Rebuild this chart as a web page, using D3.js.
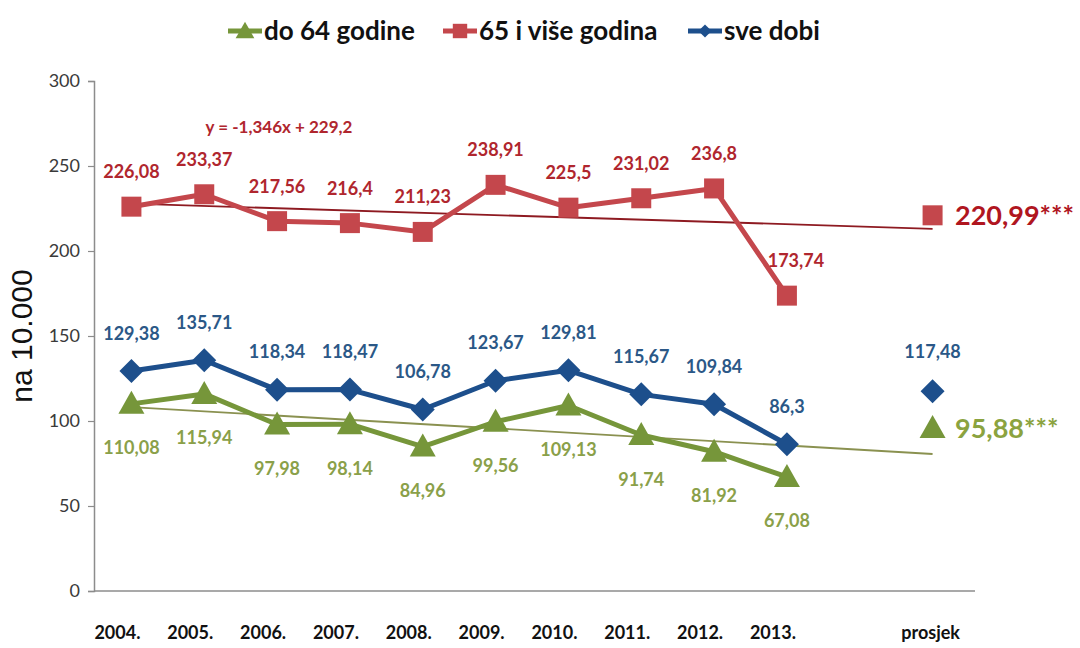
<!DOCTYPE html>
<html>
<head>
<meta charset="utf-8">
<title>na 10.000</title>
<script src="https://cdn.jsdelivr.net/npm/d3@7"></script>
<style>
  body { margin: 0; background: #fff; }
  svg { display: block; }
</style>
</head>
<body>
<script>
// values
var years = ["2004.", "2005.", "2006.", "2007.", "2008.", "2009.", "2010.", "2011.", "2012.", "2013."];
var avgName = "prosjek";
var under64 = [110.08, 115.94, 97.98, 98.14, 84.96, 99.56, 109.13, 91.74, 81.92, 67.08];
var over65 = [226.08, 233.37, 217.56, 216.4, 211.23, 238.91, 225.5, 231.02, 236.8, 173.74];
var allAges = [129.38, 135.71, 118.34, 118.47, 106.78, 123.67, 129.81, 115.67, 109.84, 86.3];
var averages = [95.88, 220.99, 117.48]; // do 64, 65+, sve dobi
var yTicks = [0, 50, 100, 150, 200, 250, 300];
var trendOver65 = [-1.346, 229.2];  // slope, intercept (x = 1..12)
var trendUnder64 = [-2.51, 110.7];
var seriesNames = ["do 64 godine", "65 i više godina", "sve dobi"];

var W = 1080, H = 648;
var svg = d3.select("body").append("svg").attr("width", W).attr("height", H);

var x = d3.scaleBand()
  .domain(years.concat([" ", avgName]))
  .range([95, 969]);
var y = d3.scaleLinear().domain([0, 300]).range([591, 81]);
var cx = function(i) { return x.domain()[i] ? x(x.domain()[i]) + x.bandwidth() / 2 : 0; };
var fmt = function(v) { return String(v).replace(".", ","); };

var green = "#76963a", red = "#c4474c", blue = "#1d4f8c";
var narrow = "'Liberation Sans Narrow', 'Arial Narrow', Lato, sans-serif";

// axes
var yAxis = svg.append("g")
  .attr("transform", "translate(94,0)")
  .call(d3.axisLeft(y).tickValues(yTicks).tickSize(6).tickPadding(8));
yAxis.select(".domain").attr("stroke", "#8c8c8c").attr("stroke-width", 1.5);
yAxis.selectAll(".tick line").attr("stroke", "#8c8c8c").attr("stroke-width", 1.2);
yAxis.selectAll(".tick text")
  .attr("font-family", narrow).attr("font-size", 18).attr("fill", "#3a3a3a");

svg.append("line")
  .attr("x1", 94).attr("x2", 975).attr("y1", y(0)).attr("y2", y(0))
  .attr("stroke", "#8c8c8c").attr("stroke-width", 1.5);

var xAxis = svg.append("g")
  .attr("transform", "translate(0," + y(0) + ")")
  .call(d3.axisBottom(x).tickValues(years.concat([avgName])).tickSize(0).tickPadding(35));
xAxis.select(".domain").remove();
xAxis.selectAll(".tick text")
  .attr("font-family", narrow).attr("font-size", 18).attr("font-weight", "bold")
  .attr("fill", "#111")
  .attr("dx", function(d) { return d === avgName ? -2 : -14; });

svg.append("text")
  .attr("transform", "translate(32,336) rotate(-90)")
  .attr("text-anchor", "middle")
  .attr("font-family", "'Liberation Sans', Arial, sans-serif").attr("font-size", 30)
  .attr("fill", "#111")
  .text("na 10.000");

// trend lines
function trend(c, color) {
  svg.append("line")
    .attr("x1", cx(0)).attr("x2", cx(11))
    .attr("y1", y(c[0] * 1 + c[1])).attr("y2", y(c[0] * 12 + c[1]))
    .attr("stroke", color).attr("stroke-width", 1.8);
}
trend(trendOver65, "#8e1a21");
trend(trendUnder64, "#8a9150");

svg.append("text")
  .attr("x", 279).attr("y", 133).attr("text-anchor", "middle")
  .attr("font-family", "Lato, sans-serif").attr("font-size", 17).attr("font-weight", "bold")
  .attr("fill", "#b0262e")
  .text("y = -1,346x + 229,2");

// marker shapes
var shapes = {
  tri: "M0,-13L13,10L-13,10Z",
  sq: "M-10,-10H10V10H-10Z",
  dia: "M0,-12L12,0L0,12L-12,0Z"
};

var line = d3.line().x(function(d, i) { return cx(i); }).y(function(d) { return y(d); });

var series = [
  { vals: under64, color: green, shape: "tri", label: "#8aa049", dy: 44, avg: averages[0] },
  { vals: over65, color: red, shape: "sq", label: "#b0262e", dy: -35, avg: averages[1] },
  { vals: allAges, color: blue, shape: "dia", label: "#2b5887", dy: -38, avg: averages[2] }
];

series.forEach(function(s) {
  svg.append("path").datum(s.vals)
    .attr("d", line).attr("fill", "none")
    .attr("stroke", s.color).attr("stroke-width", 5).attr("stroke-linejoin", "round");

  svg.selectAll(null).data(s.vals.concat([s.avg])).enter().append("path")
    .attr("d", shapes[s.shape])
    .attr("transform", function(d, i) { return "translate(" + cx(i < 10 ? i : 11) + "," + y(d) + ")"; })
    .attr("fill", s.color);
});

// data labels
series.forEach(function(s, k) {
  svg.selectAll(null).data(s.vals).enter().append("text")
    .attr("x", function(d, i) { return cx(i) + (k === 1 && i === 9 ? 9 : 0); })
    .attr("y", function(d) { return y(d) + s.dy; })
    .attr("dy", "0.36em")
    .attr("text-anchor", "middle")
    .attr("font-family", "Lato, sans-serif").attr("font-size", 18).attr("font-weight", "bold")
    .attr("fill", s.label)
    .text(fmt);
});

// averages
svg.append("text")
  .attr("x", cx(11)).attr("y", y(averages[2]) - 40).attr("dy", "0.36em")
  .attr("text-anchor", "middle")
  .attr("font-family", "Lato, sans-serif").attr("font-size", 18).attr("font-weight", "bold")
  .attr("fill", "#2b5887")
  .text(fmt(averages[2]));

[[averages[1], "#b0161f"], [averages[0], "#8ba33f"]].forEach(function(a) {
  svg.append("text")
    .attr("x", 955).attr("y", y(a[0])).attr("dy", "0.36em")
    .attr("font-family", "Lato, sans-serif").attr("font-size", 27).attr("font-weight", "bold")
    .attr("fill", a[1])
    .text(fmt(a[0]) + "***");
});

// legend
var legendX = [228, 443, 688];
var lg = svg.selectAll(".lg").data(series).enter().append("g")
  .attr("transform", function(d, i) { return "translate(" + legendX[i] + ",31)"; });
lg.append("line").attr("x1", 0).attr("x2", 34)
  .attr("stroke", function(d) { return d.color; }).attr("stroke-width", 5);
lg.append("path")
  .attr("d", function(d) { return shapes[d.shape]; })
  .attr("transform", function(d) { return "translate(17,0) scale(" + (d.shape === "dia" ? 0.55 : 0.72) + ")"; })
  .attr("fill", function(d) { return d.color; });
lg.append("text")
  .attr("x", 36).attr("dy", "0.36em")
  .attr("font-family", "Lato, sans-serif").attr("font-size", 26).attr("font-weight", "bold")
  .attr("fill", "#111")
  .text(function(d, i) { return seriesNames[i]; });
</script>
</body>
</html>
